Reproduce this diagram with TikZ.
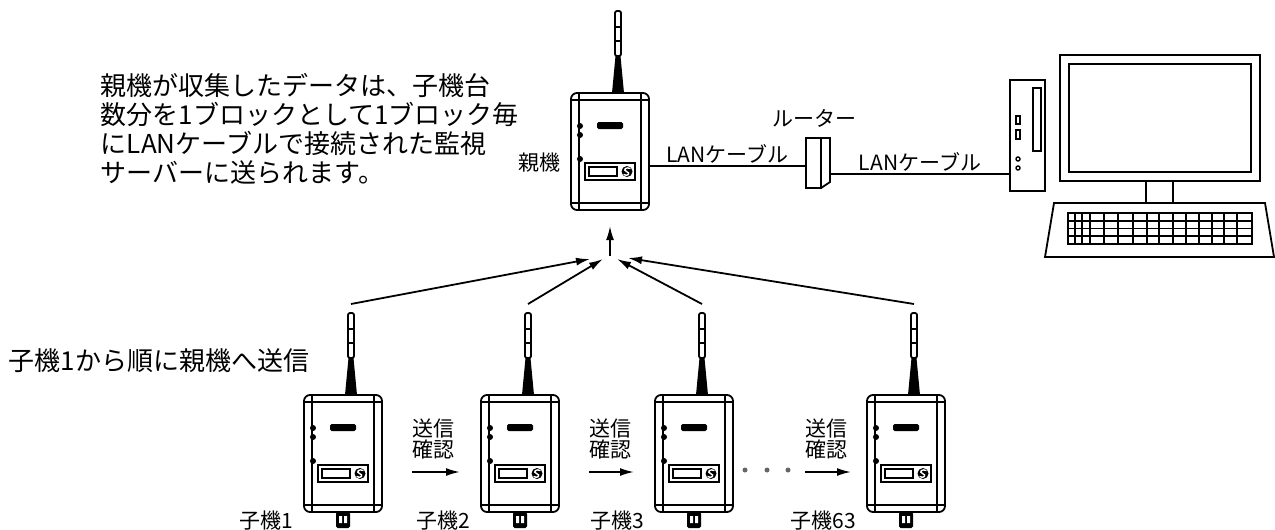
\documentclass[tikz,border=0pt]{standalone}
\usepackage{fontspec}
\setmainfont{Noto Sans CJK JP}
\usetikzlibrary{arrows.meta}

% Wireless unit, origin at the top centre of the case
\tikzset{
    unit/.pic={
        % Antenna
        \fill (2,0) -- (14,0) -- (10.5,-37) -- (5.5,-37) -- cycle;
        \draw[fill=white, rounded corners=1pt] (5,-37) rectangle (11,-82);
        \draw (5,-52) -- (11,-52) (5,-66) -- (11,-66);
        % Case
        \draw[fill=white, rounded corners=3pt] (-39,0) rectangle (39,117);
        \draw (-31,0) -- (-31,117) (31,0) -- (31,117)
              (-39,7) -- (39,7) (-39,110) -- (39,110);
        % Display and LEDs
        \fill[rounded corners=0.8pt] (-13,29) rectangle (13,36);
        \foreach \ly in {33,42,66} \fill (-30,\ly) circle (3);
        % Lower panel
        \draw (-25,70) rectangle (25,87);
        \draw (-21,74) rectangle (7,83);
        \fill (17,78.5) circle (5.5);
        \draw[white, line width=0.7pt] (20.5,75.5) .. controls (16,73.5) and (12.5,77) .. (16.5,78.5)
              .. controls (21,80) and (18,84) .. (13.5,81.5);
        % Anchors
        \coordinate (-tx) at (8,-91);
        \coordinate (-bot) at (0,117);
        \coordinate (-east) at (39,73);
    },
    gland/.pic={
        \fill[rounded corners=0.8pt] (-7,0) rectangle (7,16);
        \fill[white] (-4,4) rectangle (-1,11) (1,4) rectangle (4,11);
    }
}

\begin{document}
\begin{tikzpicture}
[
    x=0.5pt, y=-0.5pt,
    line width=0.9pt,
    >={Latex[length=7pt,width=4pt]},
    lbl/.style={font=\fontsize{10.5pt}{10.5pt}\selectfont, inner sep=1pt},
    txt/.style={font=\fontsize{13pt}{14.5pt}\selectfont, align=left, inner sep=0pt}
]
\useasboundingbox (0,0) rectangle (1275,530);

% Explanations
\node[txt, anchor=north west] (note) at (100,72)
    {親機が収集したデータは、子機台\\数分を1ブロックとして1ブロック毎\\にLANケーブルで接続された監視\\サーバーに送られます。};
\node[txt, anchor=west] (order) at (8,361) {子機1から順に親機へ送信};

% Parent unit
\pic (p) at (610,93) {unit};
\node[lbl, anchor=east] (p-name) at (563,163) {親機};

% Router
\draw[fill=white] (806,138) rectangle (821,188);
\draw (821,138) -- (830,138) -- (830,182) -- (821,188);
\node[lbl, anchor=south] (rt-name) at (814,130) {ルーター};
\coordinate (rt-in) at (806,166);
\coordinate (rt-out) at (830,174);

% Server tower
\draw (1010,80) rectangle (1045,191);
\draw (1033,88) rectangle (1041,151);
\draw[line width=0.7pt] (1016,116) rectangle (1020,124) (1016,130) rectangle (1020,139);
\draw[line width=0.7pt] (1018,159) circle (2) (1018,168) circle (2);
\coordinate (pc-in) at (1010,174);

% Monitor and keyboard
\draw (1060,55) rectangle (1260,181);
\draw (1069,64) rectangle (1251,172);
\draw (1146,181) rectangle (1173,203);
\draw (1054,203) -- (1265,203) -- (1274,257) -- (1045,257) -- cycle;
\draw (1068,213) rectangle (1252,244);
\foreach \ky in {220.75,228.5,236.25} \draw (1068,\ky) -- (1252,\ky);
\foreach \kx in {1075,1082,1090,1104,1118,1133,1147,1159,1173,1186,1199,1212,1224,1237}
    \draw (\kx,213) -- (\kx,244);

% LAN cables
\draw (p-east) -- node[lbl, above] (lan1) {LANケーブル} (rt-in);
\draw (rt-out) -- node[lbl, above] (lan2) {LANケーブル} (pc-in);

% Child units
\foreach \cx/\cn/\clab in {343/c1/子機1, 520/c2/子機2, 694/c3/子機3, 906/c63/子機63}
{
    \pic (\cn) at (\cx,395) {unit};
    \pic at (\cx,512) {gland};
    \node[lbl, anchor=east] (\cn-name) at (\cx-47,521) {\clab};
}

% Uplink to the parent
\coordinate (in-c1) at (590,259);
\coordinate (in-c2) at (603,259);
\coordinate (in-c3) at (617,259);
\coordinate (in-c63) at (628,258);
\coordinate (hub) at (610,256);
\foreach \cn in {c1,c2,c3,c63} \draw[->] (\cn-tx) -- (in-\cn);
\draw[->, shorten >=8pt] (hub) -- (p-bot);

% Send / acknowledge between children
\foreach \sx/\ex/\sn in {412/460/s1, 589/634/s2, 805/851/s63}
{
    \node[lbl, anchor=south west, align=left, inner sep=0pt] (\sn) at (\sx,460) {送信\\確認};
    \coordinate (\sn-a) at (\sx,472);
    \coordinate (\sn-b) at (\ex,472);
    \draw[->] (\sn-a) -- (\sn-b);
}
\foreach \dx in {745,767,788} \fill[black!60] (\dx,470) circle (2.5);

\end{tikzpicture}
\end{document}
